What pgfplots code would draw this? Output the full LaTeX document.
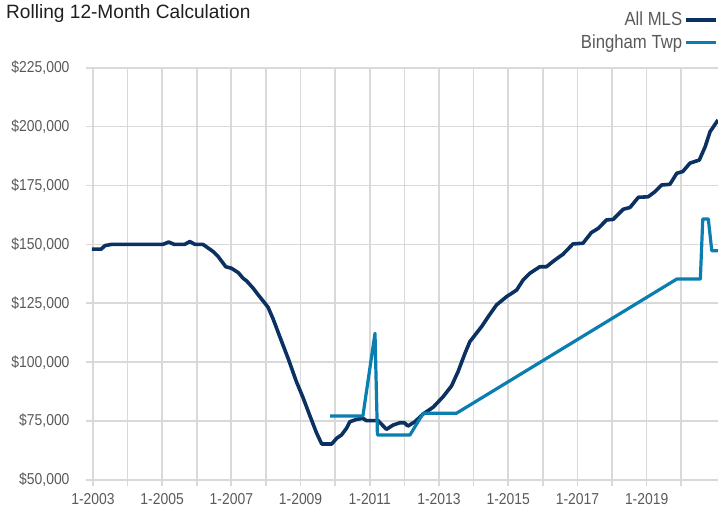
\documentclass[border=0pt]{standalone}
\usepackage{pgfplots}
\pgfplotsset{compat=1.18}
\usepackage{fontspec}
\setmainfont{Liberation Sans}[FakeStretch=0.88]
\newfontfamily\titlefont{Liberation Sans}[FakeStretch=0.99]
\definecolor{navy}{HTML}{0B3162}
\definecolor{bblue}{HTML}{0A7DB1}
\definecolor{gridgray}{HTML}{D9D9D9}
\definecolor{labgray}{HTML}{595959}
\begin{document}
\begin{tikzpicture}[x=1pt,y=1pt]
\useasboundingbox (0,0) rectangle (718,515);
\node[anchor=north west, inner sep=0pt, font=\titlefont\fontsize{19.3}{22}\selectfont, text=black!88] at (6,510.5) {Rolling 12-Month Calculation};
\begin{axis}[
  at={(86pt,35pt)}, anchor=south west,
  scale only axis, width=632pt, height=412.3pt,
  xmin=2002.8, xmax=2021.06,
  ymin=50000, ymax=225000,
  axis line style={draw=none},
  xtick={2003,2004,...,2020},
  xticklabels={1-2003,,1-2005,,1-2007,,1-2009,,1-2011,,1-2013,,1-2015,,1-2017,,1-2019,},
  ytick={50000,75000,100000,125000,150000,175000,200000,225000},
  yticklabels={{\$50,000},{\$75,000},{\$100,000},{\$125,000},{\$150,000},{\$175,000},{\$200,000},{\$225,000}},
  scaled y ticks=false,
  xmajorgrids, ymajorgrids,
  grid style={gridgray, line width=1.7pt},
  tick align=outside, xtick pos=bottom, ytick pos=left,
  major tick length=6pt,
  xtick style={gridgray, line width=1.7pt},
  ytick style={draw=none},
  ticklabel style={font=\fontsize{15.8}{18}\selectfont, text=labgray},
  yticklabel style={xshift=-7pt},
  xticklabel style={yshift=-4pt},
  legend style={at={(1,1.14)}, anchor=north east, draw=none, fill=none,
    font=\fontsize{19}{22}\selectfont, text=labgray, inner sep=0pt,
    row sep=3.5pt, cells={anchor=east}},
  legend cell align=right,
  legend plot pos=right,
  legend image code/.code={\draw[#1] (6pt,0pt) -- (36pt,0pt);},
  line join=round,
]
\addplot[navy, line width=3.6pt] coordinates {
(2002.97,148000) (2003.24,148000) (2003.35,149500) (2003.54,150000)
(2005.02,150000) (2005.19,151000) (2005.35,150000) (2005.65,150000)
(2005.8,151200) (2005.95,150000) (2006.18,150000) (2006.47,147000)
(2006.62,144800) (2006.84,140500) (2007.0,139900) (2007.2,138000)
(2007.34,135600) (2007.44,134500) (2007.63,131400) (2007.78,128500)
(2007.97,125000) (2008.06,123300) (2008.2,118600) (2008.4,110800)
(2008.64,101600) (2008.88,91700) (2009.07,85000) (2009.26,77600)
(2009.46,70000) (2009.61,65300) (2009.9,65300) (2010.04,67700)
(2010.18,69100) (2010.33,72000) (2010.42,74700) (2010.61,75700)
(2010.8,76200) (2010.9,75200) (2011.24,75200) (2011.48,71500)
(2011.67,73300) (2011.87,74300) (2012.0,74300) (2012.1,72900)
(2012.3,74700) (2012.54,78000) (2012.83,80900) (2013.12,85400)
(2013.36,89900) (2013.55,96000) (2013.75,103800) (2013.89,108700)
(2014.08,112300) (2014.23,115100) (2014.42,119300) (2014.66,124300)
(2014.95,127800) (2015.24,130600) (2015.43,134900) (2015.62,137700)
(2015.91,140500) (2016.1,140500) (2016.35,143400) (2016.58,145800)
(2016.87,150200) (2017.16,150500) (2017.4,155000) (2017.6,156800)
(2017.84,160400) (2018.03,160600) (2018.32,164900) (2018.52,165700)
(2018.76,170000) (2019.04,170200) (2019.24,172400) (2019.43,175200)
(2019.67,175500) (2019.87,180200) (2020.04,180900) (2020.25,184500)
(2020.52,185800) (2020.69,191500) (2020.83,197800) (2021.06,202800)
};
\addlegendentry{All MLS}
\addplot[bblue, line width=3.2pt] coordinates {
(2009.85,77200) (2010.8,77200) (2011.15,112300) (2011.22,69100)
(2012.16,69100) (2012.54,78300) (2013.5,78300) (2019.87,135300)
(2020.55,135300) (2020.62,160800) (2020.78,160800) (2020.88,147300)
(2021.06,147300)
};
\addlegendentry{Bingham Twp}
\end{axis}
\end{tikzpicture}
\end{document}
